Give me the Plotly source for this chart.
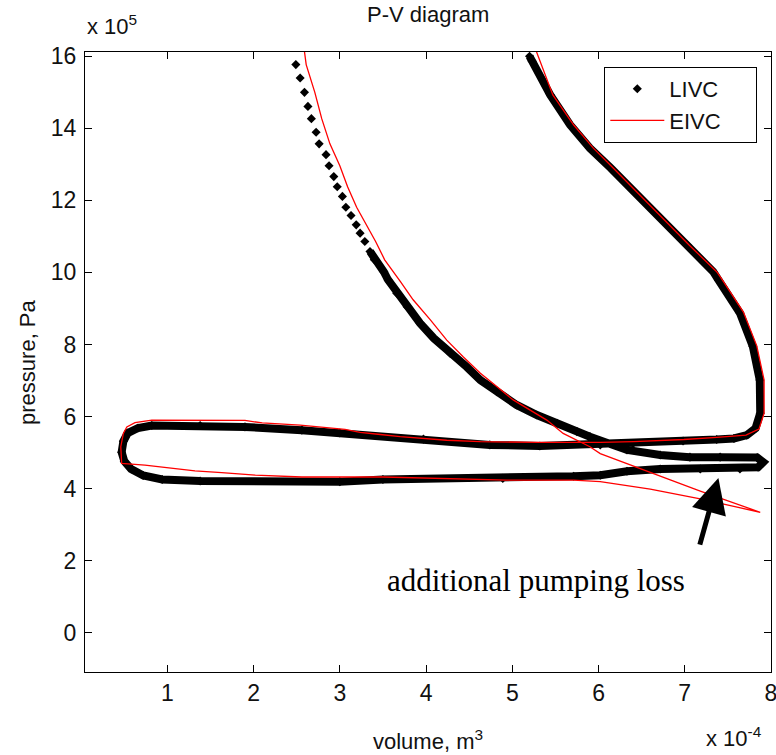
import plotly.graph_objects as go

# ---------------- data (volume in 1e-4 m^3, pressure in 1e5 Pa) ----------------
# LIVC cycle, in path order: expansion -> exhaust -> intake -> compression
livc_volume = [5.20, 5.23, 5.44, 5.67, 5.90, 6.14, 6.41, 6.68, 7.03, 7.33,
               7.39, 7.64, 7.79, 7.87, 7.875, 7.82, 7.72, 7.57, 7.37, 6.98,
               6.40, 6.02, 5.32, 4.74, 3.97, 3.00, 2.56, 1.90, 1.38, 0.82,
               0.66, 0.54, 0.49, 0.47, 0.50, 0.58, 0.72, 0.94, 1.38, 3.00,
               3.50, 4.89, 5.71, 6.02, 6.33, 6.715, 7.18, 7.64, 7.85, 7.91,
               7.84, 7.41, 7.06, 6.715, 6.33, 5.90, 5.75, 5.52, 5.285, 5.05,
               4.82, 4.63, 4.47, 4.28, 4.09, 3.93, 3.78, 3.66, 3.56, 3.51,
               3.40, 3.35,
               3.29, 3.235, 3.19, 3.13, 3.07, 3.03, 2.97, 2.93, 2.875, 2.84,
               2.76, 2.725, 2.67, 2.63, 2.59, 2.54, 2.49]
livc_pressure = [16.00, 15.86, 14.93, 14.10, 13.45, 12.90, 12.25, 11.60, 10.76, 10.02,
                 9.79, 8.87, 7.94, 7.01, 6.09, 5.67, 5.48, 5.39, 5.36, 5.32,
                 5.25, 5.21, 5.18, 5.21, 5.37, 5.54, 5.62, 5.71, 5.75, 5.75,
                 5.68, 5.54, 5.31, 5.01, 4.76, 4.54, 4.36, 4.25, 4.21, 4.19,
                 4.25, 4.28, 4.34, 4.37, 4.48, 4.54, 4.54, 4.54, 4.59, 4.73,
                 4.86, 4.87, 4.87, 4.93, 5.07, 5.44, 5.58, 5.81, 6.04, 6.32,
                 6.69, 7.01, 7.38, 7.75, 8.17, 8.59, 9.05, 9.42, 9.79, 10.02,
                 10.35, 10.58,
                 10.86, 11.09, 11.32, 11.58, 11.81, 12.11, 12.38, 12.66, 12.96, 13.27,
                 13.57, 13.89, 14.27, 14.61, 15.00, 15.40, 15.77]
LIVC_DENSE_COUNT = 72   # leading samples that overlap into a continuous band

# EIVC cycle, same order
eivc_volume = [5.28, 5.47, 5.71, 5.94, 6.17, 6.44, 6.70, 7.05, 7.37, 7.42,
               7.68, 7.835, 7.92, 7.92, 7.86, 7.71, 7.37, 6.99, 6.41, 6.02,
               5.32, 4.63, 4.24, 3.93, 3.70, 3.47, 3.235, 3.06, 2.75, 2.54,
               2.10, 1.90, 0.82, 0.625, 0.53, 0.49, 0.46, 0.47, 0.74, 1.05,
               1.32, 1.63, 2.02, 2.56, 3.06, 3.50, 4.94, 5.71, 6.02, 6.60,
               7.18, 7.875, 7.18, 6.60, 6.02, 5.90, 5.75, 5.59, 5.40, 5.21,
               5.01, 4.82, 4.63, 4.43, 4.24, 4.05, 3.85, 3.705, 3.52, 3.415,
               3.31, 3.195, 3.09, 3.00, 2.885, 2.79, 2.71, 2.61, 2.59]
eivc_pressure = [16.13, 14.93, 14.10, 13.45, 12.90, 12.25, 11.60, 10.76, 10.02, 9.85,
                 8.90, 7.96, 7.01, 6.09, 5.65, 5.48, 5.42, 5.36, 5.30, 5.28,
                 5.28, 5.30, 5.34, 5.39, 5.44, 5.50, 5.56, 5.64, 5.71, 5.76,
                 5.82, 5.89, 5.90, 5.83, 5.71, 5.53, 5.16, 4.70, 4.65, 4.56,
                 4.49, 4.44, 4.37, 4.32, 4.31, 4.32, 4.23, 4.23, 4.19, 3.98,
                 3.71, 3.34, 3.93, 4.46, 4.97, 5.16, 5.34, 5.53, 5.90, 6.18,
                 6.46, 6.83, 7.20, 7.66, 8.12, 8.68, 9.24, 9.74, 10.35, 10.86,
                 11.32, 11.81, 12.38, 12.96, 13.57, 14.27, 15.00, 15.77, 16.13]

x_ticks = [1, 2, 3, 4, 5, 6, 7, 8]
y_ticks = [0, 2, 4, 6, 8, 10, 12, 14, 16]

annotation_point = (7.39, 4.29)        # arrow head
label_point = (5.28, 1.45)             # "additional pumping loss"

# ---------------- figure ----------------
FONT = "Liberation Sans, Arial, Helvetica, sans-serif"
fs = 22
fs_tick = 23
pad = "\u00a0" * 5

fig = go.Figure()

# dense part of LIVC samples: overlapping diamonds form a thick band
fig.add_trace(go.Scatter(
    x=livc_volume[:LIVC_DENSE_COUNT], y=livc_pressure[:LIVC_DENSE_COUNT],
    mode="lines", line=dict(color="black", width=8),
    showlegend=False, hoverinfo="skip"))

fig.add_trace(go.Scatter(
    x=livc_volume, y=livc_pressure, name="LIVC" + pad, mode="markers",
    marker=dict(symbol="diamond", size=7, color="black",
                line=dict(width=0))))

fig.add_trace(go.Scatter(
    x=eivc_volume, y=eivc_pressure, name="EIVC" + pad, mode="lines",
    line=dict(color="#ff0000", width=1.3)))

axis_common = dict(
    showgrid=False, zeroline=False, showline=True, linecolor="black",
    linewidth=1, mirror="ticks", ticks="inside", ticklen=7, tickwidth=1,
    tickcolor="black", tickfont=dict(family=FONT, size=fs_tick, color="#111"),
    automargin=False, ticklabeloverflow="allow")

fig.update_xaxes(range=[0.045, 8.0], tickvals=x_ticks,
                 ticktext=[str(t) for t in x_ticks], **axis_common)
fig.update_yaxes(range=[-1.095, 16.12], tickvals=y_ticks,
                 ticktext=[str(t) for t in y_ticks], ticklabelstandoff=3,
                 **axis_common)

fig.update_layout(
    width=776, height=755,
    margin=dict(l=85, r=5, t=52, b=83, pad=0),
    paper_bgcolor="white", plot_bgcolor="white",
    font=dict(family=FONT, size=fs, color="#111"),
    showlegend=True,
    legend=dict(x=0.757, y=0.976, xanchor="left", yanchor="top",
                bgcolor="white", bordercolor="black", borderwidth=1,
                font=dict(family=FONT, size=fs, color="#111"),
                itemwidth=54, tracegroupgap=0),
)

ann = []
ann.append(dict(text="P-V diagram", xref="paper", yref="paper", x=0.5, y=1.06,
                xanchor="center", yanchor="middle", showarrow=False,
                font=dict(family=FONT, size=fs, color="#111")))
ann.append(dict(text="x 10<sup>5</sup>", xref="paper", yref="paper", x=0.0, y=1.018,
                xanchor="left", yanchor="bottom", showarrow=False,
                font=dict(family=FONT, size=fs, color="#111")))
ann.append(dict(text="volume, m<sup>3</sup>", xref="paper", yref="paper", x=0.5, y=-0.11,
                xanchor="center", yanchor="middle", showarrow=False,
                font=dict(family=FONT, size=fs, color="#111")))
ann.append(dict(text="x 10<sup>-4</sup>", xref="paper", yref="paper", x=0.99, y=-0.105,
                xanchor="right", yanchor="middle", showarrow=False,
                font=dict(family=FONT, size=fs, color="#111")))
ann.append(dict(text="pressure, Pa", xref="paper", yref="paper", x=-0.0846, y=0.5,
                xanchor="center", yanchor="middle", textangle=-90, showarrow=False,
                font=dict(family=FONT, size=fs, color="#111")))
ann.append(dict(text="additional pumping loss", xref="x", yref="y",
                x=label_point[0], y=label_point[1], xanchor="center", yanchor="middle",
                showarrow=False,
                font=dict(family="Liberation Serif, Times New Roman, serif", size=31,
                          color="black")))
ann.append(dict(text="", xref="x", yref="y", x=annotation_point[0], y=annotation_point[1],
                ax=-19, ay=68, showarrow=True, arrowhead=2, arrowsize=1.4,
                arrowwidth=5, arrowcolor="black"))
fig.update_layout(annotations=ann)

fig.write_html("out.html")
